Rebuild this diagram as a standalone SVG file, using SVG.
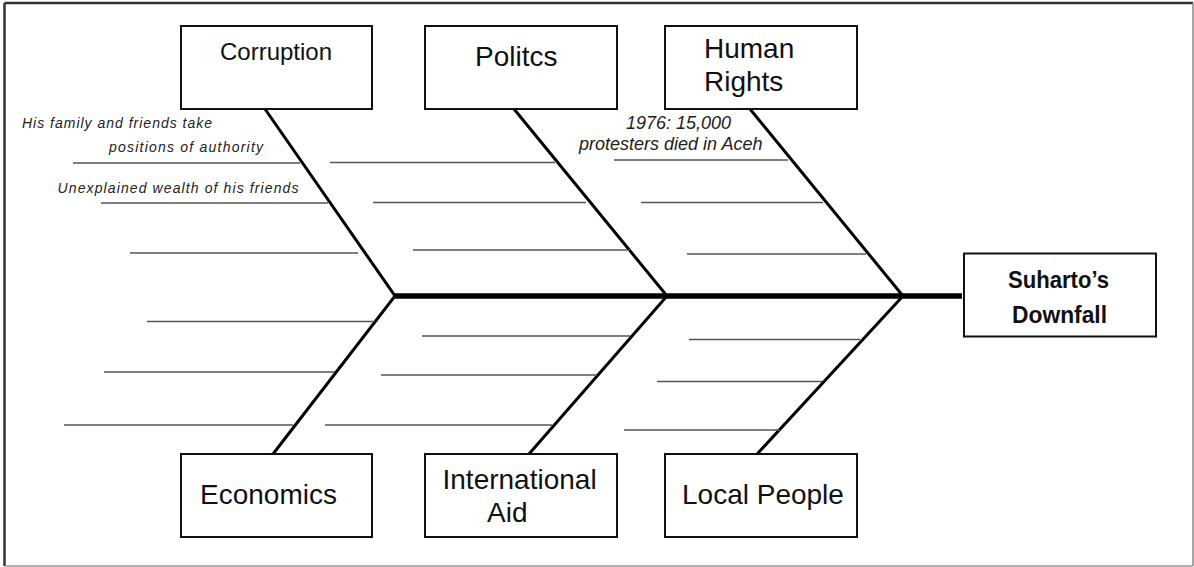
<svg xmlns="http://www.w3.org/2000/svg" width="1194" height="567" viewBox="0 0 1194 567">
<style>
.box{fill:#fff;stroke:#111;stroke-width:2}
.bone{stroke:#000;stroke-width:3;fill:none;stroke-linecap:round}
.spine{stroke:#000;stroke-width:5.5;fill:none}
.rib{stroke:#555;stroke-width:1.5;fill:none}
.lbl{font-family:"Liberation Sans",Arial,sans-serif;font-size:28px;fill:#111}
.note{font-family:"Liberation Sans",Arial,sans-serif;font-style:italic;fill:#222}
.head{font-family:"Liberation Sans",Arial,sans-serif;font-weight:bold;font-size:24px;fill:#111}
</style>
<rect width="1194" height="567" fill="#fff"/>
<g id="frame">
<line x1="4.5" y1="3" x2="1193" y2="3" stroke="#333" stroke-width="2.5"/>
<line x1="4.5" y1="3" x2="4.5" y2="566" stroke="#333" stroke-width="2.5"/>
<line x1="1193" y1="3" x2="1193" y2="566" stroke="#888" stroke-width="1.5"/>
<line x1="4.5" y1="566" x2="1193" y2="566" stroke="#999" stroke-width="1.5"/>
</g>
<g id="connectors">
<line class="spine" x1="393" y1="296" x2="962" y2="296"/>
<polyline class="bone" points="265,109 395,296 273,454"/>
<polyline class="bone" points="514,109 667,296 529,454"/>
<polyline class="bone" points="750,109 903,296 758,453"/>
<g id="ribs">
<line class="rib" x1="73" y1="163" x2="300" y2="163"/>
<line class="rib" x1="101" y1="203" x2="328" y2="203"/>
<line class="rib" x1="130" y1="253" x2="358" y2="253"/>
<line class="rib" x1="330" y1="162.5" x2="555" y2="162.5"/>
<line class="rib" x1="373" y1="202.5" x2="586" y2="202.5"/>
<line class="rib" x1="413" y1="250" x2="630" y2="250"/>
<line class="rib" x1="614" y1="160" x2="788" y2="160"/>
<line class="rib" x1="641" y1="202.5" x2="823" y2="202.5"/>
<line class="rib" x1="687" y1="254" x2="866" y2="254"/>
<line class="rib" x1="147" y1="321.5" x2="375" y2="321.5"/>
<line class="rib" x1="104" y1="372" x2="335" y2="372"/>
<line class="rib" x1="64" y1="425" x2="293" y2="425"/>
<line class="rib" x1="422" y1="336" x2="630" y2="336"/>
<line class="rib" x1="381" y1="375" x2="597" y2="375"/>
<line class="rib" x1="325" y1="425" x2="552" y2="425"/>
<line class="rib" x1="689" y1="339.5" x2="860" y2="339.5"/>
<line class="rib" x1="657" y1="381.5" x2="822" y2="381.5"/>
<line class="rib" x1="624" y1="430" x2="780" y2="430"/>
</g>
</g>
<g id="corruption">
<rect class="box" x="181" y="26" width="191" height="83"/>
<text class="lbl" x="276" y="60" text-anchor="middle" style="font-size:24px">Corruption</text>
</g>
<g id="politics">
<rect class="box" x="425" y="26" width="192" height="83"/>
<text class="lbl" x="475" y="65.5">Politcs</text>
</g>
<g id="human-rights">
<rect class="box" x="665" y="26" width="192" height="83"/>
<text class="lbl" x="704" y="57.5">Human</text>
<text class="lbl" x="704" y="90.5">Rights</text>
</g>
<g id="economics">
<rect class="box" x="181" y="454" width="191" height="83"/>
<text class="lbl" x="200" y="503.5">Economics</text>
</g>
<g id="international-aid">
<rect class="box" x="425" y="454" width="192" height="83"/>
<text class="lbl" x="442.5" y="488.5">International</text>
<text class="lbl" x="487" y="521.5">Aid</text>
</g>
<g id="local-people">
<rect class="box" x="665" y="454" width="192" height="83"/>
<text class="lbl" x="682" y="503.5">Local People</text>
</g>
<g id="downfall">
<rect class="box" x="964" y="253.5" width="192" height="83"/>
<text class="head" x="1008" y="287.5" textLength="101" lengthAdjust="spacingAndGlyphs">Suharto’s</text>
<text class="head" x="1012" y="322.5" textLength="95" lengthAdjust="spacingAndGlyphs">Downfall</text>
</g>
<g id="notes">
<text class="note" x="22" y="128" font-size="14" textLength="190" lengthAdjust="spacing">His family and friends take</text>
<text class="note" x="109" y="151.5" font-size="14" textLength="154" lengthAdjust="spacing">positions of authority</text>
<text class="note" x="57.5" y="192.5" font-size="14" textLength="241" lengthAdjust="spacing">Unexplained wealth of his  friends</text>
<text class="note" x="626" y="128.5" font-size="18">1976: 15,000</text>
<text class="note" x="579" y="149.5" font-size="18">protesters died in Aceh</text>
</g>
</svg>
